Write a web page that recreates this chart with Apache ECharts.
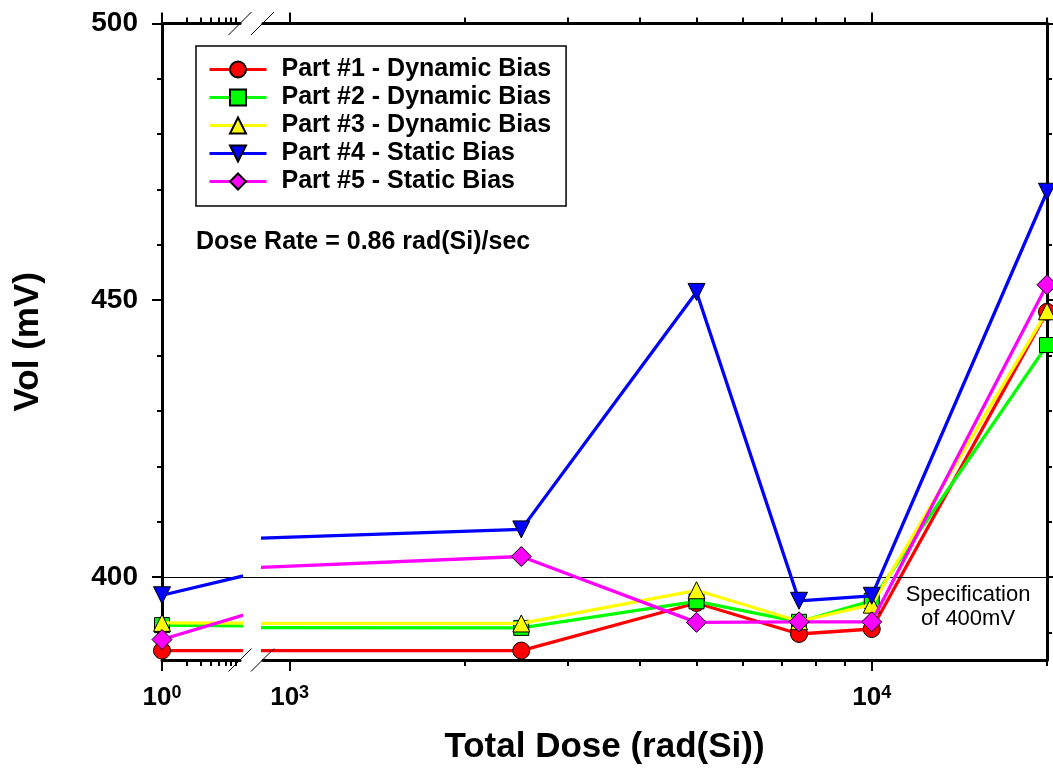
<!DOCTYPE html>
<html><head><meta charset="utf-8">
<script src="https://cdn.jsdelivr.net/npm/echarts@6/dist/echarts.min.js"></script>
<style>html,body{margin:0;padding:0;background:#fff}#c{width:1053px;height:776px}</style>
</head><body><div id="c"></div>
<script>
// ---- data ----
const doses = [1, 2500, 5000, 7500, 10000, 20000];
const part1 = [386.7, 386.7, 395.3, 389.7, 390.6, 447.9];
const part2 = [391.3, 390.8, 395.6, 391.9, 395.7, 441.9];
const part3 = [391.7, 391.6, 397.6, 392.0, 395.0, 448.0];
const part4 = [396.7, 408.6, 451.5, 395.7, 396.6, 469.6];
const part5 = [388.7, 403.7, 391.8, 391.9, 391.9, 452.8];
const seriesNames = ['Part #1 - Dynamic Bias', 'Part #2 - Dynamic Bias', 'Part #3 - Dynamic Bias', 'Part #4 - Static Bias', 'Part #5 - Static Bias'];
const xMajorLeft = [1];
const xMinorLeft = [2, 3, 4, 5, 6, 7, 8];
const xMajorRight = [1000, 10000];
const xMinorRight = [2000, 3000, 4000, 5000, 6000, 7000, 8000, 9000, 20000];
const yMajor = [400, 450, 500];
const yMinor = [390, 410, 420, 430, 440, 460, 470, 480, 490];
const specValue = 400;
const yMin = 385, yMax = 500;
const leftRange = [1, 9];
const rightRange = [900, 20000];

// ---- layout ----
const FONT = "'Liberation Sans', Arial, Helvetica, sans-serif";
const TOP = 23.5, BOT = 660, H = 776;
const L0 = 162, W0 = 78, L1 = 263, R1 = 1047;

const chart = echarts.init(document.getElementById('c'), null, {renderer: 'canvas'});

function xAx(grid, range, pos, ticks, len, labels, showLine) {
  return {
    type: 'log', logBase: 10, gridIndex: grid, min: range[0], max: range[1], position: pos,
    axisLine: {show: showLine, onZero: false, lineStyle: {color: '#000', width: 3}},
    axisTick: {show: true, inside: false, length: len, customValues: ticks, lineStyle: {color: '#000', width: 2}},
    axisLabel: labels ? {
      show: true, customValues: labels, margin: 24,
      formatter: v => '{b|10}{s|' + Math.round(Math.log10(v)) + '}',
      rich: {
        b: {fontSize: 26, fontWeight: 'bold', fontFamily: FONT, color: '#000', lineHeight: 28},
        s: {fontSize: 18, fontWeight: 'bold', fontFamily: FONT, color: '#000', verticalAlign: 'top', lineHeight: 18}
      }
    } : {show: false},
    splitLine: {show: false}, minorTick: {show: false}
  };
}
function yAx(grid, pos, ticks, len, labels, showLine, extra) {
  return Object.assign({
    type: 'value', gridIndex: grid, min: yMin, max: yMax, position: pos,
    axisLine: {show: showLine, onZero: false, lineStyle: {color: '#000', width: 3}},
    axisTick: {show: true, inside: false, length: len, customValues: ticks, lineStyle: {color: '#000', width: 2}},
    axisLabel: labels ? {show: true, customValues: labels, fontSize: 28, fontWeight: 'bold', fontFamily: FONT, color: '#000', margin: 24} : {show: false},
    splitLine: {show: false}
  }, extra || {});
}

const styles = [
  {color: '#ff0000', symbol: 'circle', size: 17, rotate: 0},
  {color: '#00ff00', symbol: 'rect', size: 15, rotate: 0},
  {color: '#ffff00', symbol: 'triangle', size: 17, rotate: 0},
  {color: '#0000ff', symbol: 'triangle', size: 17, rotate: 180},
  {color: '#ff00ff', symbol: 'diamond', size: 20, rotate: 0}
];
const allParts = [part1, part2, part3, part4, part5];

const series = [];
[[0, 0], [4, 1]].forEach(([xi, yi]) => {
  allParts.forEach((vals, k) => {
    const s = styles[k];
    series.push({
      type: 'line', name: seriesNames[k], xAxisIndex: xi, yAxisIndex: yi,
      data: doses.map((d, i) => [d, vals[i]]),
      symbol: s.symbol, symbolSize: s.size, symbolRotate: s.rotate,
      lineStyle: {color: s.color, width: 3.3},
      itemStyle: {color: s.color, borderColor: '#000', borderWidth: 1},
      clip: true, animation: false, z: 3 + k
    });
  });
});
series.push({
  type: 'line', xAxisIndex: 8, yAxisIndex: 2, data: [], silent: true, animation: false,
  markLine: {symbol: 'none', silent: true, animation: false, label: {show: false},
    lineStyle: {color: '#000', width: 1, type: 'solid'}, data: [{yAxis: specValue}]}
});

const half = 11.5;
function slash(cx, cy) {
  return {type: 'line', shape: {x1: cx - half, y1: cy + half, x2: cx + half, y2: cy - half}, style: {stroke: '#000', lineWidth: 1}, z: 10};
}

const option = {
  backgroundColor: '#fff',
  animation: false,
  grid: [
    {left: L0, width: W0, top: TOP, bottom: H - BOT, containLabel: false},
    {left: L1, width: R1 - L1, top: TOP, bottom: H - BOT, containLabel: false},
    {left: L0, width: R1 - L0, top: TOP, bottom: H - BOT, containLabel: false}
  ],
  xAxis: [
    xAx(0, leftRange, 'bottom', xMajorLeft, 11, xMajorLeft, true),
    xAx(0, leftRange, 'top', xMajorLeft, 11, null, true),
    xAx(0, leftRange, 'bottom', xMinorLeft, 6, null, false),
    xAx(0, leftRange, 'top', xMinorLeft, 6, null, false),
    xAx(1, rightRange, 'bottom', xMajorRight, 11, xMajorRight, true),
    xAx(1, rightRange, 'top', xMajorRight, 11, null, true),
    xAx(1, rightRange, 'bottom', xMinorRight, 6, null, false),
    xAx(1, rightRange, 'top', xMinorRight, 6, null, false),
    {type: 'value', gridIndex: 2, min: 0, max: 1, position: 'bottom',
      axisLine: {show: false}, axisTick: {show: false}, axisLabel: {show: false}, splitLine: {show: false},
      name: 'Total Dose (rad(Si))', nameLocation: 'middle', nameGap: 70,
      nameTextStyle: {fontSize: 35, fontWeight: 'bold', fontFamily: FONT, color: '#000'}}
  ],
  yAxis: [
    yAx(0, 'left', yMajor, 10, yMajor, true),
    yAx(1, 'right', yMajor, 10, null, true),
    yAx(2, 'left', yMinor, 5, null, false, {
      name: 'Vol (mV)', nameLocation: 'middle', nameGap: 116,
      nameTextStyle: {fontSize: 35, fontWeight: 'bold', fontFamily: FONT, color: '#000'}}),
    yAx(2, 'right', yMinor, 5, null, false)
  ],
  legend: {
    show: true, data: seriesNames, orient: 'vertical', left: 196, top: 46,
    backgroundColor: '#fff', borderColor: '#000', borderWidth: 1.5, borderRadius: 0,
    padding: [11, 15, 12, 12], itemWidth: 57, itemHeight: 20, itemGap: 3,
    lineStyle: {width: 3},
    textStyle: {fontSize: 25, fontWeight: 'bold', fontFamily: FONT, color: '#000', lineHeight: 25, padding: [0, 0, 0, 10]},
    selectedMode: false
  },
  graphic: [
    slash(L0 + W0, BOT), slash(L1 - 0.5, BOT), slash(L0 + W0, TOP), slash(L1 - 0.5, TOP),
    {type: 'text', left: 196, top: 230, z: 10,
      style: {text: 'Dose Rate = 0.86 rad(Si)/sec', fontSize: 25, fontWeight: 'bold', fontFamily: FONT, fill: '#000'}},
    {type: 'text', x: 968, y: 583, z: 10,
      style: {text: 'Specification\nof 400mV', fontSize: 22, lineHeight: 24, fontFamily: FONT, fill: '#000', align: 'center', verticalAlign: 'top'}}
  ],
  series: series
};
chart.setOption(option);
</script></body></html>
